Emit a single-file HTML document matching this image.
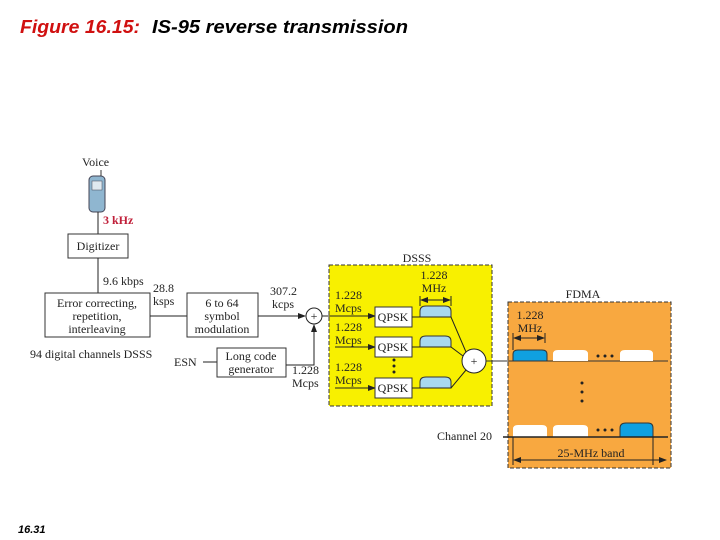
<!DOCTYPE html>
<html><head><meta charset="utf-8"><style>
body{margin:0;background:#fff;width:720px;height:540px;overflow:hidden}
svg{display:block}
.s{font-family:"Liberation Serif",serif;font-size:12px;fill:#222}
.t{font-family:"Liberation Sans",sans-serif;font-size:18px;font-style:italic;font-weight:bold}
</style></head><body>
<svg width="720" height="540" viewBox="0 0 720 540" xmlns="http://www.w3.org/2000/svg">
<defs>
<marker id="a" markerWidth="8" markerHeight="8" refX="7" refY="4" orient="auto" markerUnits="userSpaceOnUse"><path d="M0,1 L8,4 L0,7 Z" fill="#222"/></marker>
<marker id="b" markerWidth="8" markerHeight="8" refX="1" refY="4" orient="auto" markerUnits="userSpaceOnUse"><path d="M8,1 L0,4 L8,7 Z" fill="#222"/></marker>
</defs>
<text x="20" y="33" class="t" fill="#d01010" textLength="120" lengthAdjust="spacingAndGlyphs">Figure 16.15:</text>
<text x="152" y="33" class="t" fill="#000" textLength="256" lengthAdjust="spacingAndGlyphs">IS-95 reverse transmission</text>
<text x="18" y="533" font-family="Liberation Sans,sans-serif" font-size="11" font-style="italic" font-weight="bold" fill="#000">16.31</text>

<!-- left chain -->
<text x="82" y="166" class="s">Voice</text>
<rect x="89" y="176" width="16" height="36" rx="4" fill="#8fb6d0" stroke="#445" stroke-width="1"/>
<rect x="92" y="181" width="10" height="9" fill="#dfe9f0" stroke="#445" stroke-width="0.5"/>
<line x1="101" y1="170" x2="101" y2="176" stroke="#333"/>
<text x="103" y="224" class="s" font-weight="bold" style="fill:#c0203a">3 kHz</text>
<line x1="98" y1="212" x2="98" y2="234" stroke="#222"/>
<rect x="68" y="234" width="60" height="24" fill="#fff" stroke="#333"/>
<text x="98" y="250" class="s" text-anchor="middle">Digitizer</text>
<line x1="98" y1="258" x2="98" y2="293" stroke="#222"/>
<text x="103" y="285" class="s">9.6 kbps</text>
<rect x="45" y="293" width="105" height="44" fill="#fff" stroke="#333"/>
<text x="97" y="307" class="s" text-anchor="middle">Error correcting,</text>
<text x="97" y="320" class="s" text-anchor="middle">repetition,</text>
<text x="97" y="333" class="s" text-anchor="middle">interleaving</text>
<text x="153" y="292" class="s">28.8</text>
<text x="153" y="305" class="s">ksps</text>
<line x1="150" y1="316" x2="187" y2="316" stroke="#222"/>
<rect x="187" y="293" width="71" height="44" fill="#fff" stroke="#333"/>
<text x="222" y="307" class="s" text-anchor="middle">6 to 64</text>
<text x="222" y="320" class="s" text-anchor="middle">symbol</text>
<text x="222" y="333" class="s" text-anchor="middle">modulation</text>
<text x="270" y="295" class="s">307.2</text>
<text x="272" y="308" class="s">kcps</text>
<line x1="258" y1="316" x2="305" y2="316" stroke="#222" marker-end="url(#a)"/>
<circle cx="314" cy="316" r="8" fill="#fff" stroke="#222"/>
<text x="314" y="320" class="s" text-anchor="middle" font-size="11">+</text>
<text x="30" y="358" class="s">94 digital channels DSSS</text>
<text x="174" y="366" class="s">ESN</text>
<line x1="203" y1="362" x2="217" y2="362" stroke="#222"/>
<rect x="217" y="348" width="69" height="29" fill="#fff" stroke="#333"/>
<text x="251" y="360" class="s" text-anchor="middle">Long code</text>
<text x="251" y="373" class="s" text-anchor="middle">generator</text>
<polyline points="286,365 314,365 314,325" fill="none" stroke="#222" marker-end="url(#a)"/>
<text x="292" y="374" class="s">1.228</text>
<text x="292" y="387" class="s">Mcps</text>

<!-- DSSS -->
<text x="417" y="262" class="s" text-anchor="middle">DSSS</text>
<rect x="329" y="265" width="163" height="141" fill="#f8f000" stroke="#333" stroke-dasharray="4,2"/>
<line x1="322" y1="316" x2="375" y2="316" stroke="#222" marker-end="url(#a)"/>
<text x="335" y="299" class="s">1.228</text><text x="335" y="312" class="s">Mcps</text>
<text x="335" y="331" class="s">1.228</text><text x="335" y="344" class="s">Mcps</text>
<text x="335" y="371" class="s">1.228</text><text x="335" y="384" class="s">Mcps</text>
<line x1="335" y1="347" x2="375" y2="347" stroke="#222" marker-end="url(#a)"/>
<line x1="335" y1="388" x2="375" y2="388" stroke="#222" marker-end="url(#a)"/>
<g fill="#fff" stroke="#333">
<rect x="375" y="307" width="37" height="20"/><rect x="375" y="337" width="37" height="20"/><rect x="375" y="378" width="37" height="20"/>
</g>
<text x="393" y="321" class="s" text-anchor="middle">QPSK</text>
<text x="393" y="351" class="s" text-anchor="middle">QPSK</text>
<text x="393" y="392" class="s" text-anchor="middle">QPSK</text>
<g fill="#222"><circle cx="394" cy="360" r="1.5"/><circle cx="394" cy="366" r="1.5"/><circle cx="394" cy="372" r="1.5"/></g>
<g fill="#a8d8f0" stroke="#333">
<path d="M420,317 L420,311 Q420,306 426,306 L445,306 Q451,306 451,311 L451,317 Z"/>
<path d="M420,347 L420,341 Q420,336 426,336 L445,336 Q451,336 451,341 L451,347 Z"/>
<path d="M420,388 L420,382 Q420,377 426,377 L445,377 Q451,377 451,382 L451,388 Z"/>
</g>
<g stroke="#222" fill="none">
<polyline points="412,317 451,317 466,352"/>
<polyline points="412,347 451,347 463,356"/>
<polyline points="412,388 451,388 466,370"/>
</g>
<line x1="421" y1="300" x2="450" y2="300" stroke="#222" marker-start="url(#b)" marker-end="url(#a)"/>
<line x1="420" y1="296" x2="420" y2="306" stroke="#222"/><line x1="451" y1="296" x2="451" y2="306" stroke="#222"/>
<text x="434" y="279" class="s" text-anchor="middle">1.228</text>
<text x="434" y="292" class="s" text-anchor="middle">MHz</text>
<circle cx="474" cy="361" r="12" fill="#fff" stroke="#222"/>
<text x="474" y="365" class="s" text-anchor="middle">+</text>

<!-- FDMA -->
<text x="583" y="298" class="s" text-anchor="middle">FDMA</text>
<rect x="508" y="302" width="163" height="166" fill="#f8a840" stroke="#333" stroke-dasharray="4,2"/>
<line x1="486" y1="361" x2="668" y2="361" stroke="#333"/>
<text x="530" y="319" class="s" text-anchor="middle">1.228</text>
<text x="530" y="332" class="s" text-anchor="middle">MHz</text>
<line x1="514" y1="338" x2="544" y2="338" stroke="#222" marker-start="url(#b)" marker-end="url(#a)"/>
<line x1="513" y1="333" x2="513" y2="350" stroke="#222"/><line x1="545" y1="333" x2="545" y2="343" stroke="#222"/>
<path d="M513,361 L513,354 Q513,350 518,350 L542,350 Q547,350 547,354 L547,361 Z" fill="#10a0e0" stroke="#333"/>
<path d="M553,361 L553,354 Q553,350 558,350 L583,350 Q588,350 588,354 L588,361 Z" fill="#fff"/>
<path d="M620,361 L620,354 Q620,350 625,350 L648,350 Q653,350 653,354 L653,361 Z" fill="#fff"/>
<g fill="#222"><circle cx="598" cy="356" r="1.5"/><circle cx="605" cy="356" r="1.5"/><circle cx="612" cy="356" r="1.5"/>
<circle cx="582" cy="383" r="1.5"/><circle cx="582" cy="392" r="1.5"/><circle cx="582" cy="401" r="1.5"/>
<circle cx="598" cy="430" r="1.5"/><circle cx="605" cy="430" r="1.5"/><circle cx="612" cy="430" r="1.5"/></g>
<path d="M513,437 L513,429 Q513,425 518,425 L542,425 Q547,425 547,429 L547,437 Z" fill="#fff"/>
<path d="M553,437 L553,429 Q553,425 558,425 L583,425 Q588,425 588,429 L588,437 Z" fill="#fff"/>
<path d="M620,437 L620,428 Q620,423 626,423 L648,423 Q653,423 653,428 L653,437 Z" fill="#10a0e0" stroke="#333"/>
<line x1="503" y1="437" x2="668" y2="437" stroke="#222" stroke-width="1.5"/>
<text x="437" y="440" class="s">Channel 20</text>
<line x1="513" y1="437" x2="513" y2="465" stroke="#222"/>
<line x1="653" y1="437" x2="653" y2="465" stroke="#222"/>
<line x1="514" y1="460" x2="666" y2="460" stroke="#222" marker-start="url(#b)" marker-end="url(#a)"/>
<text x="591" y="457" class="s" text-anchor="middle">25-MHz band</text>
</svg>
</body></html>
